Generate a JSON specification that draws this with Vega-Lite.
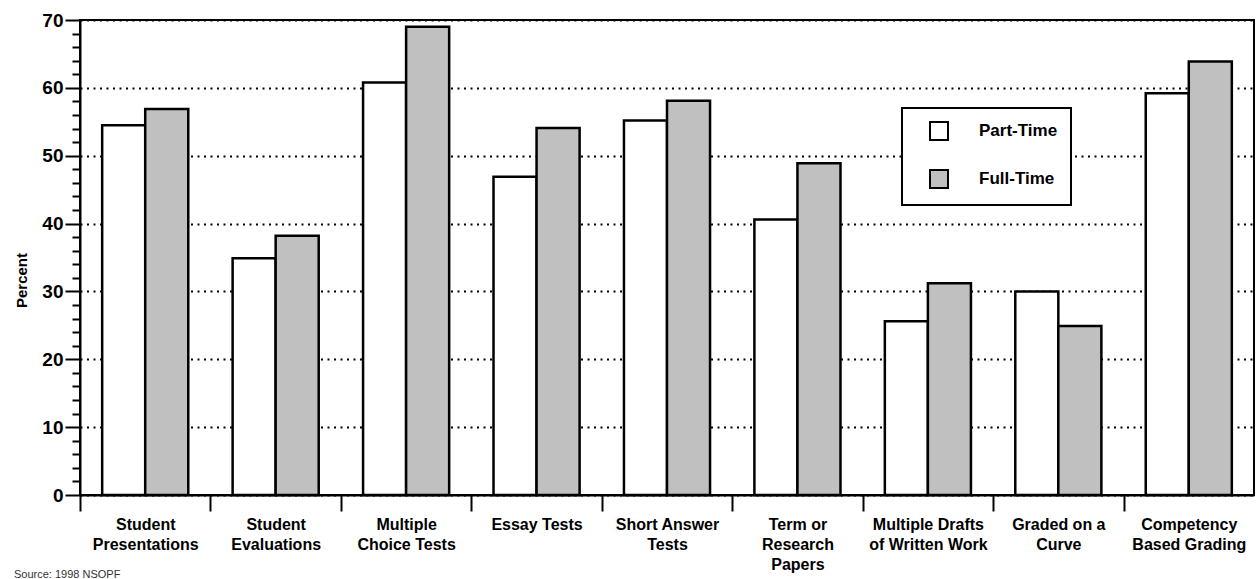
{
  "$schema": "https://vega.github.io/schema/vega-lite/v6.json",
  "width": 1174,
  "height": 475,
  "autosize": {"type": "none"},
  "padding": {"left": 80, "top": 20, "right": 2, "bottom": 84},
  "background": "white",
  "title": {
    "text": "Source: 1998 NSOPF",
    "orient": "bottom",
    "anchor": "start",
    "frame": "group",
    "dx": -66,
    "offset": -3,
    "fontSize": 11,
    "fontWeight": "normal",
    "font": "Liberation Sans",
    "color": "#333333"
  },
  "config": {
    "view": {"stroke": "black", "strokeWidth": 2},
    "font": "Liberation Sans"
  },
  "data": {
    "values": [
      {"category": "Student Presentations", "status": "Part-Time", "percent": 54.5},
      {"category": "Student Presentations", "status": "Full-Time", "percent": 56.9},
      {"category": "Student Evaluations", "status": "Part-Time", "percent": 34.9},
      {"category": "Student Evaluations", "status": "Full-Time", "percent": 38.2},
      {"category": "Multiple Choice Tests", "status": "Part-Time", "percent": 60.8},
      {"category": "Multiple Choice Tests", "status": "Full-Time", "percent": 69.0},
      {"category": "Essay Tests", "status": "Part-Time", "percent": 46.9},
      {"category": "Essay Tests", "status": "Full-Time", "percent": 54.1},
      {"category": "Short Answer Tests", "status": "Part-Time", "percent": 55.2},
      {"category": "Short Answer Tests", "status": "Full-Time", "percent": 58.1},
      {"category": "Term or Research Papers", "status": "Part-Time", "percent": 40.6},
      {"category": "Term or Research Papers", "status": "Full-Time", "percent": 48.9},
      {"category": "Multiple Drafts of Written Work", "status": "Part-Time", "percent": 25.6},
      {"category": "Multiple Drafts of Written Work", "status": "Full-Time", "percent": 31.2},
      {"category": "Graded on a Curve", "status": "Part-Time", "percent": 30.0},
      {"category": "Graded on a Curve", "status": "Full-Time", "percent": 24.9},
      {"category": "Competency Based Grading", "status": "Part-Time", "percent": 59.2},
      {"category": "Competency Based Grading", "status": "Full-Time", "percent": 63.9}
    ]
  },
  "encoding": {
    "x": {
      "field": "category",
      "type": "nominal",
      "sort": null,
      "scale": {"paddingInner": 0.34, "paddingOuter": 0.17},
      "axis": {
        "title": null,
        "labelAngle": 0,
        "labelFontSize": 16,
        "labelFontWeight": "bold",
        "labelColor": "black",
        "labelLineHeight": 20,
        "labelPadding": 5,
        "labelBaseline": "top",
        "labelLimit": 200,
        "tickSize": 16,
        "tickWidth": 2,
        "tickColor": "black",
        "tickOffset": -65.2,
        "labelOffset": 65.2,
        "domainColor": "black",
        "domainWidth": 2,
        "labelExpr": "({'Student Presentations': ['Student', 'Presentations'], 'Student Evaluations': ['Student', 'Evaluations'], 'Multiple Choice Tests': ['Multiple', 'Choice Tests'], 'Essay Tests': 'Essay Tests', 'Short Answer Tests': ['Short Answer', 'Tests'], 'Term or Research Papers': ['Term or', 'Research', 'Papers'], 'Multiple Drafts of Written Work': ['Multiple Drafts', 'of Written Work'], 'Graded on a Curve': ['Graded on a', 'Curve'], 'Competency Based Grading': ['Competency', 'Based Grading']})[datum.label]"
      }
    },
    "xOffset": {
      "field": "status",
      "type": "nominal",
      "sort": ["Part-Time", "Full-Time"],
      "scale": {"paddingInner": 0, "paddingOuter": 0}
    }
  },
  "layer": [
    {
      "mark": {"type": "bar", "opacity": 0},
      "encoding": {
        "y": {
          "field": "percent",
          "type": "quantitative",
          "scale": {"domain": [0, 70], "nice": false},
          "axis": {
            "orient": "left",
            "title": null,
            "values": [2, 4, 6, 8, 12, 14, 16, 18, 22, 24, 26, 28, 32, 34, 36, 38, 42, 44, 46, 48, 52, 54, 56, 58, 62, 64, 66, 68],
            "labels": false,
            "domain": false,
            "grid": false,
            "tickSize": 8,
            "tickWidth": 2,
            "tickColor": "black"
          }
        }
      }
    },
    {
      "mark": {"type": "bar", "stroke": "black", "strokeWidth": 2.5, "strokeJoin": "miter"},
      "encoding": {
        "y": {
          "field": "percent",
          "type": "quantitative",
          "scale": {"domain": [0, 70], "nice": false},
          "axis": {
            "orient": "left",
            "title": "Percent",
            "titleFontSize": 15,
            "titleFontWeight": "bold",
            "titleColor": "black",
            "titlePadding": 12,
            "titleY": 260,
            "values": [0, 10, 20, 30, 40, 50, 60, 70],
            "labelFontSize": 19,
            "labelFontWeight": "bold",
            "labelColor": "black",
            "labelPadding": 2,
            "tickSize": 15,
            "tickWidth": 2,
            "tickColor": "black",
            "domainColor": "black",
            "domainWidth": 2,
            "grid": true,
            "gridColor": "black",
            "gridWidth": 2,
            "gridDash": [2, 4.5]
          }
        },
        "fill": {
          "field": "status",
          "type": "nominal",
          "sort": ["Part-Time", "Full-Time"],
          "scale": {"domain": ["Part-Time", "Full-Time"], "range": ["white", "#c0c0c0"]},
          "legend": {
            "title": null,
            "orient": "none",
            "legendX": 822,
            "legendY": 88,
            "symbolType": "square",
            "symbolSize": 324,
            "symbolStrokeColor": "black",
            "symbolStrokeWidth": 2,
            "symbolOffset": 14,
            "labelFontSize": 17,
            "labelFontWeight": "bold",
            "labelColor": "black",
            "labelOffset": 30,
            "rowPadding": 22,
            "padding": 13,
            "strokeColor": "black",
            "fillColor": "white",
            "labelLimit": 200,
            "encode": {"legend": {"update": {"strokeWidth": {"value": 2}}}}
          }
        }
      }
    }
  ],
  "resolve": {"axis": {"y": "independent"}}
}
